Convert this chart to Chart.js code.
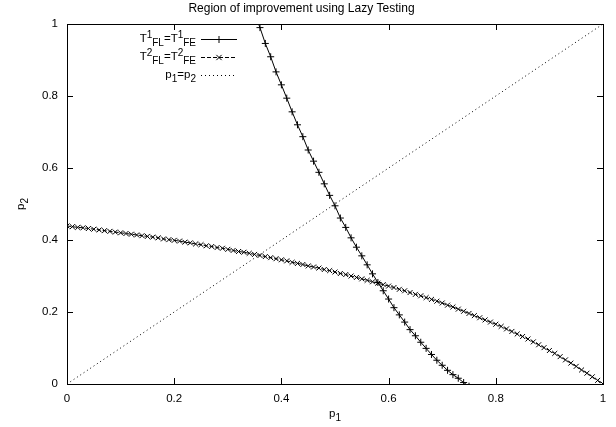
<!DOCTYPE html>
<html>
<head>
<meta charset="utf-8">
<script src="https://cdn.jsdelivr.net/npm/chart.js@4.4.1/dist/chart.umd.min.js"></script>
<style>
  html, body { margin: 0; padding: 0; background: #fff; }
</style>
</head>
<body>
<canvas id="myChart" width="616" height="427"></canvas>
<script>
const chartTitle = 'Region of improvement using Lazy Testing';

// sample positions of p1 (gnuplot samples)
const p1Grid = [
  0.00, 0.01, 0.02, 0.03, 0.04, 0.05, 0.06, 0.07, 0.08, 0.09,
  0.10, 0.11, 0.12, 0.13, 0.14, 0.15, 0.16, 0.17, 0.18, 0.19,
  0.20, 0.21, 0.22, 0.23, 0.24, 0.25, 0.26, 0.27, 0.28, 0.29,
  0.30, 0.31, 0.32, 0.33, 0.34, 0.35, 0.36, 0.37, 0.38, 0.39,
  0.40, 0.41, 0.42, 0.43, 0.44, 0.45, 0.46, 0.47, 0.48, 0.49,
  0.50, 0.51, 0.52, 0.53, 0.54, 0.55, 0.56, 0.57, 0.58, 0.59,
  0.60, 0.61, 0.62, 0.63, 0.64, 0.65, 0.66, 0.67, 0.68, 0.69,
  0.70, 0.71, 0.72, 0.73, 0.74, 0.75, 0.76, 0.77, 0.78, 0.79,
  0.80, 0.81, 0.82, 0.83, 0.84, 0.85, 0.86, 0.87, 0.88, 0.89,
  0.90, 0.91, 0.92, 0.93, 0.94, 0.95, 0.96, 0.97, 0.98, 0.99,
  1.00
];

// T1_FL = T1_FE : p2 values for p1 = 0.35 .. 0.75
const t1Start = 35;
const t1Curve = [
  1.03, 0.99, 0.946, 0.909, 0.867, 0.831, 0.794, 0.756, 0.72, 0.687,
  0.65, 0.619, 0.588, 0.556, 0.524, 0.495, 0.461, 0.435, 0.406, 0.38,
  0.356, 0.331, 0.306, 0.282, 0.259, 0.236, 0.212, 0.192, 0.172, 0.151,
  0.134, 0.116, 0.099, 0.082, 0.066, 0.052, 0.038, 0.026, 0.016, 0.004,
  -0.006
];

// T2_FL = T2_FE : p2 values for p1 = 0 .. 1
const t2Curve = [
  0.439, 0.437, 0.435, 0.434, 0.432, 0.430, 0.428, 0.426, 0.424, 0.422,
  0.420, 0.418, 0.416, 0.414, 0.412, 0.410, 0.408, 0.406, 0.403, 0.401,
  0.399, 0.397, 0.394, 0.392, 0.389, 0.387, 0.384, 0.382, 0.379, 0.377,
  0.374, 0.371, 0.368, 0.366, 0.363, 0.360, 0.357, 0.354, 0.351, 0.348,
  0.345, 0.342, 0.338, 0.335, 0.332, 0.328, 0.325, 0.322, 0.318, 0.315,
  0.311, 0.307, 0.304, 0.300, 0.296, 0.292, 0.288, 0.284, 0.280, 0.276,
  0.272, 0.268, 0.263, 0.259, 0.254, 0.249, 0.245, 0.240, 0.235, 0.230,
  0.225, 0.219, 0.214, 0.208, 0.202, 0.196, 0.190, 0.184, 0.178, 0.172,
  0.166, 0.160, 0.153, 0.146, 0.139, 0.132, 0.125, 0.117, 0.109, 0.101,
  0.093, 0.085, 0.076, 0.067, 0.058, 0.049, 0.039, 0.030, 0.020, 0.010,
  0.000
];

// p1 = p2
const diagP1 = [0, 1];
const diagP2 = [0, 1];

const axisTicks = [0, 0.2, 0.4, 0.6, 0.8, 1];

// legend labels as [text, shift] : 0 normal, 1 superscript, -1 subscript
const legendLabels = [
  [['T', 0], ['1', 1], ['FL', -1], ['=T', 0], ['1', 1], ['FE', -1]],
  [['T', 0], ['2', 1], ['FL', -1], ['=T', 0], ['2', 1], ['FE', -1]],
  [['p', 0], ['1', -1], ['=p', 0], ['2', -1]]
];

const FAM = '"Liberation Sans", Arial, Helvetica, sans-serif';

const pts = (xs, ys) => ys.map((y, i) => ({ x: xs[i], y: y }));
const fmtTick = v => String(Number(v.toFixed(2)));

function drawRich(ctx, parts, x, y, align) {
  const fonts = { 0: '11.5px ' + FAM, 1: '10px ' + FAM, '-1': '10px ' + FAM };
  const shift = { 0: 0, 1: -4, '-1': 4 };
  let w = 0;
  parts.forEach(p => { ctx.font = fonts[p[1]]; w += ctx.measureText(p[0]).width; });
  let cx = align === 'right' ? x - w : (align === 'center' ? x - w / 2 : x);
  ctx.textAlign = 'left';
  ctx.textBaseline = 'middle';
  parts.forEach(p => {
    ctx.font = fonts[p[1]];
    ctx.fillText(p[0], cx, y + shift[p[1]]);
    cx += ctx.measureText(p[0]).width;
  });
}

function drawMarker(ctx, style, x, y, r) {
  ctx.beginPath();
  if (style === 'cross') {
    ctx.moveTo(x - r, y); ctx.lineTo(x + r, y);
    ctx.moveTo(x, y - r); ctx.lineTo(x, y + r);
  } else if (style === 'crossRot') {
    const d = r * 0.75;
    ctx.moveTo(x - d, y - d); ctx.lineTo(x + d, y + d);
    ctx.moveTo(x - d, y + d); ctx.lineTo(x + d, y - d);
  }
  ctx.stroke();
}

const gnuplotFrame = {
  id: 'gnuplotFrame',
  afterDraw(chart) {
    const ctx = chart.ctx;
    const a = chart.chartArea;
    const xs = chart.scales.x, ys = chart.scales.y;
    ctx.save();
    ctx.strokeStyle = '#000';
    ctx.fillStyle = '#000';
    ctx.lineWidth = 1;
    ctx.setLineDash([]);
    // ticks pointing inward on all four sides
    const tl = 6;
    ctx.beginPath();
    axisTicks.forEach(v => {
      const px = Math.round(xs.getPixelForValue(v)) + 0.5;
      ctx.moveTo(px, a.bottom); ctx.lineTo(px, a.bottom - tl);
      ctx.moveTo(px, a.top); ctx.lineTo(px, a.top + tl);
      const py = Math.round(ys.getPixelForValue(v)) + 0.5;
      ctx.moveTo(a.left, py); ctx.lineTo(a.left + tl, py);
      ctx.moveTo(a.right, py); ctx.lineTo(a.right - tl, py);
    });
    ctx.stroke();
    ctx.strokeRect(Math.round(a.left) + 0.5, Math.round(a.top) + 0.5,
      Math.round(a.right - a.left), Math.round(a.bottom - a.top));

    // axis titles
    drawRich(ctx, [['p', 0], ['1', -1]], (a.left + a.right) / 2, 414, 'center');
    ctx.save();
    ctx.translate(21, (a.top + a.bottom) / 2);
    ctx.rotate(-Math.PI / 2);
    drawRich(ctx, [['p', 0], ['2', -1]], 0, 0, 'center');
    ctx.restore();

    // key
    const rowY = [39, 57, 75];
    chart.data.datasets.forEach((ds, i) => {
      const y = rowY[i];
      drawRich(ctx, legendLabels[i], 196, y, 'right');
      ctx.setLineDash(ds.borderDash || []);
      ctx.beginPath();
      ctx.moveTo(201, y + 0.5); ctx.lineTo(237, y + 0.5);
      ctx.stroke();
      ctx.setLineDash([]);
      if (ds.pointRadius > 0) drawMarker(ctx, ds.pointStyle, 219, y + 0.5, ds.pointRadius);
    });
    ctx.restore();
  }
};

const ctx = document.getElementById('myChart');

new Chart(ctx, {
  type: 'line',
  data: {
    datasets: [{
      label: 'T1FL=T1FE',
      data: pts(p1Grid.slice(t1Start), t1Curve),
      borderColor: '#000',
      borderWidth: 1,
      pointStyle: 'cross',
      pointRadius: 3.5,
      pointBorderColor: '#000',
      pointBorderWidth: 1,
      tension: 0,
      fill: false
    }, {
      label: 'T2FL=T2FE',
      data: pts(p1Grid, t2Curve),
      borderColor: '#000',
      borderWidth: 1,
      borderDash: [4, 2],
      pointStyle: 'crossRot',
      pointRadius: 3.5,
      pointBorderColor: '#000',
      pointBorderWidth: 1,
      tension: 0,
      fill: false
    }, {
      label: 'p1=p2',
      data: pts(diagP1, diagP2),
      borderColor: '#000',
      borderWidth: 1,
      borderDash: [1, 3],
      pointRadius: 0,
      tension: 0,
      fill: false
    }]
  },
  options: {
    responsive: false,
    animation: false,
    layout: { padding: { top: 0, right: 13, bottom: 0, left: 0 } },
    plugins: {
      legend: { display: false },
      tooltip: { enabled: false },
      title: {
        display: true,
        text: chartTitle,
        color: '#000',
        font: { family: FAM, size: 12, weight: 'normal' },
        padding: { top: 1, bottom: 8.6 }
      }
    },
    scales: {
      x: {
        type: 'linear',
        min: 0,
        max: 1,
        grid: { display: false, drawTicks: false },
        border: { display: false },
        ticks: { stepSize: 0.2, padding: 8, color: '#000', font: { family: FAM, size: 11.5 }, maxRotation: 0, callback: fmtTick },
        afterFit: s => { s.height = 43; }
      },
      y: {
        type: 'linear',
        min: 0,
        max: 1,
        grid: { display: false, drawTicks: false },
        border: { display: false },
        ticks: { stepSize: 0.2, padding: 9, color: '#000', font: { family: FAM, size: 11.5 }, callback: fmtTick },
        afterFit: s => { s.width = 67; }
      }
    }
  },
  plugins: [gnuplotFrame]
});
</script>
</body>
</html>
